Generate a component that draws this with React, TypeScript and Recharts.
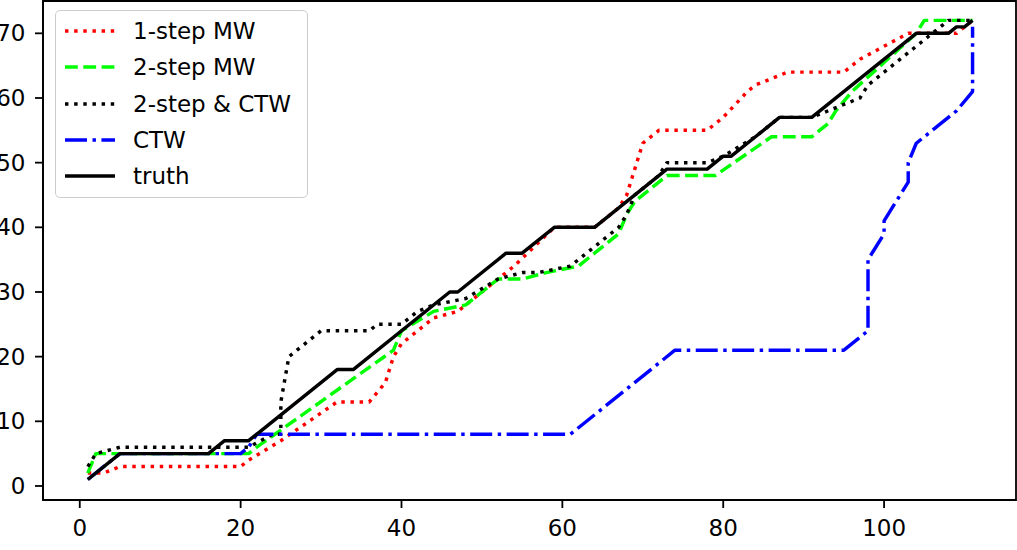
import React from 'react';
import { LineChart, Line, XAxis, YAxis, Legend, ReferenceArea } from 'recharts';

// 1-step MW
const mw1X = [1, 3, 5, 20, 21, 25, 32, 36, 38, 39, 40, 42, 44, 47, 54, 59, 64, 67, 68, 70, 72, 78, 80, 83, 84, 86, 88, 95, 97, 103, 109, 111];
const mw1Y = [2, 2, 3, 3, 4, 7, 13, 13, 16, 20, 22, 24, 26, 27, 34, 40, 40, 43, 45, 53, 55, 55, 57, 61, 62, 63, 64, 64, 66, 70, 70, 72];

// 2-step MW
const mw2X = [1, 2, 5, 21, 22, 39, 40, 44, 48, 52, 55, 58, 62, 64, 67, 68, 69, 73, 79, 86, 91, 93, 94, 96, 104, 105, 111];
const mw2Y = [2, 5, 5, 5, 6, 21, 24, 27, 28, 32, 32, 33, 34, 36, 39, 42, 44, 48, 48, 54, 54, 56, 58, 61, 70, 72, 72];

// 2-step & CTW
const ctw2X = [1, 2, 5, 21, 24, 25, 25, 26, 27, 30, 36, 37, 40, 42, 44, 48, 52, 55, 57, 61, 63, 67, 68, 69, 72, 73, 78, 80, 84, 87, 91, 95, 97, 98, 105, 107, 108, 111];
const ctw2Y = [3, 5, 6, 6, 8, 8, 13, 20, 21, 24, 24, 25, 25, 27, 28, 29, 32, 33, 33, 34, 36, 40, 42, 45, 48, 50, 50, 51, 54, 57, 57, 59, 60, 62, 69, 71, 72, 72];

// CTW
const ctwX = [1, 5, 20, 21, 22, 61, 74, 95, 98, 98, 99, 100, 100, 101, 102, 103, 103, 104, 109, 111, 111];
const ctwY = [1, 5, 5, 6, 8, 8, 21, 21, 24, 35, 37, 39, 41, 43, 45, 47, 50, 53, 58, 61, 71];

// truth
const truthX = [1, 5, 16, 18, 21, 32, 34, 46, 47, 53, 55, 59, 64, 73, 78, 80, 81, 87, 91, 104, 108, 109, 110, 111];
const truthY = [1, 5, 5, 7, 7, 18, 18, 30, 30, 36, 36, 40, 40, 49, 49, 51, 51, 57, 57, 70, 70, 71, 71, 72];

const xTicks = [0, 20, 40, 60, 80, 100];
const yTicks = [0, 10, 20, 30, 40, 50, 60, 70];
const xDomain: [number, number] = [-4.57, 116.4];
const yDomain: [number, number] = [-2.17, 75.0];

const zip = (xs: number[], ys: number[]) => xs.map((x, i) => ({ x, y: ys[i] }));

const series = [
  { name: '1-step MW', data: zip(mw1X, mw1Y), color: '#ff0000', dash: '3.45 5.7', width: 3.45 },
  { name: '2-step MW', data: zip(mw2X, mw2Y), color: '#00ff00', dash: '12.8 5.5', width: 3.45 },
  { name: '2-step & CTW', data: zip(ctw2X, ctw2Y), color: '#000000', dash: '3.45 5.7', width: 3.45 },
  { name: 'CTW', data: zip(ctwX, ctwY), color: '#0000ff', dash: '22 5.5 3.45 5.5', width: 3.45 },
  { name: 'truth', data: zip(truthX, truthY), color: '#000000', dash: undefined, width: 3.45 },
];

const FONT = '"DejaVu Sans", sans-serif';
const tickStyle = { fill: '#000', fontSize: 23, fontFamily: FONT };
const spine = { stroke: '#000', strokeWidth: 1.8 };

const renderLegend = () => (
  <div
    style={{
      boxSizing: 'border-box',
      width: 253,
      height: 188,
      border: '1.5px solid #cccccc',
      borderRadius: 5,
      background: 'rgba(255,255,255,0.8)',
      paddingTop: 2,
      fontFamily: FONT,
      fontSize: 23,
      color: '#000',
    }}
  >
    {series.map((s) => (
      <div key={s.name} style={{ display: 'flex', alignItems: 'center', height: 36.25 }}>
        <svg width={50} height={10} style={{ marginLeft: 9 }}>
          <line x1={0} y1={5} x2={50} y2={5} stroke={s.color} strokeWidth={s.width} strokeDasharray={s.dash} />
        </svg>
        <span style={{ marginLeft: 18, whiteSpace: 'nowrap' }}>{s.name}</span>
      </div>
    ))}
  </div>
);

export default function App() {
  return (
    <div style={{ position: 'absolute', left: 0, top: 0, background: '#fff' }}>
      <LineChart width={1017} height={550} margin={{ top: 1, right: 1, left: 0, bottom: 0 }}>
        <XAxis
          type="number"
          dataKey="x"
          domain={xDomain}
          ticks={xTicks}
          allowDataOverflow
          height={50}
          tickSize={8}
          tickMargin={12}
          axisLine={spine}
          tickLine={spine}
          tick={tickStyle}
        />
        <YAxis
          type="number"
          domain={yDomain}
          ticks={yTicks}
          allowDataOverflow
          width={43}
          tickSize={8}
          tickMargin={9.5}
          axisLine={spine}
          tickLine={spine}
          tick={tickStyle}
        />
        <ReferenceArea
          x1={xDomain[0]}
          x2={xDomain[1]}
          y1={yDomain[0]}
          y2={yDomain[1]}
          fill="none"
          stroke="#000"
          strokeWidth={1.8}
          ifOverflow="visible"
        />
        {series.map((s) => (
          <Line
            key={s.name}
            data={s.data}
            dataKey="y"
            name={s.name}
            type="linear"
            stroke={s.color}
            strokeWidth={s.width}
            strokeDasharray={s.dash}
            strokeLinejoin="round"
            dot={false}
            activeDot={false}
            isAnimationActive={false}
          />
        ))}
        <Legend
          layout="horizontal"
          verticalAlign="middle"
          align="center"
          content={renderLegend}
          wrapperStyle={{ left: 55, top: 10, width: 253, height: 188 }}
        />
      </LineChart>
    </div>
  );
}
